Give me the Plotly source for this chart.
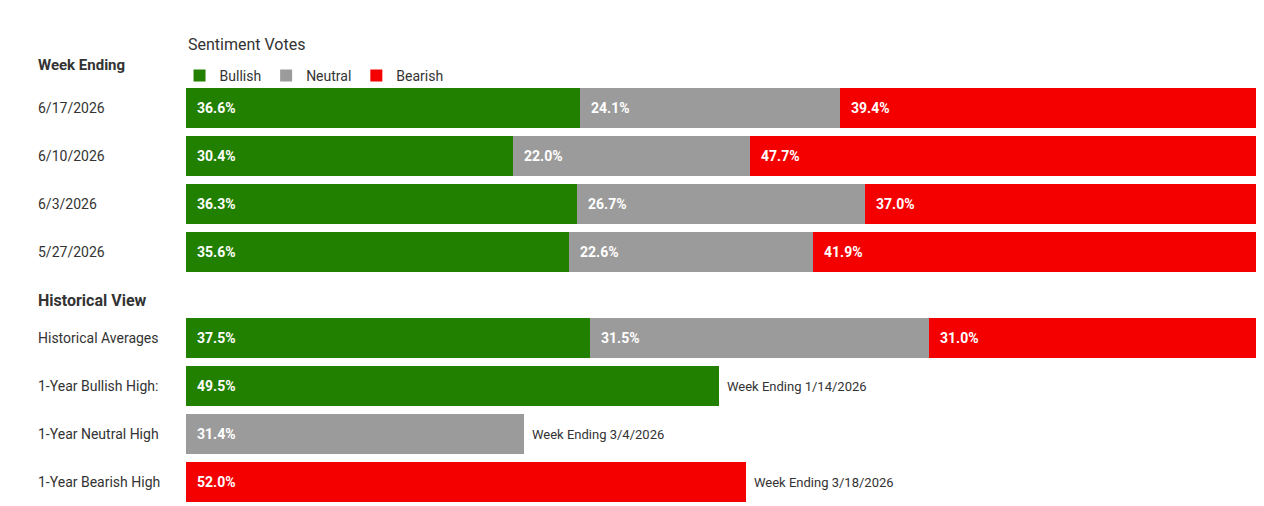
import plotly.graph_objects as go

weeks = ["6/17/2026", "6/10/2026", "6/3/2026", "5/27/2026", "Historical Averages"]
bullish = [36.6, 30.4, 36.3, 35.6, 37.5]
neutral = [24.1, 22.0, 26.7, 22.6, 31.5]
bearish = [39.4, 47.7, 37.0, 41.9, 31.0]

high_labels = ["1-Year Bullish High:", "1-Year Neutral High", "1-Year Bearish High"]
high_values = [49.5, 31.4, 52.0]
high_notes = ["Week Ending 1/14/2026", "Week Ending 3/4/2026", "Week Ending 3/18/2026"]

GREEN, GRAY, RED = "#228000", "#9b9b9b", "#f50000"
FONT = "Roboto"

# row centres in pixel units (layout only)
top_y = [100, 148, 196, 244, 330]
high_y = [378, 426, 474]

fig = go.Figure()
base_n = bullish
base_b = [a + b for a, b in zip(bullish, neutral)]
for name, vals, base, col in [("Bullish", bullish, [0] * 5, GREEN),
                              ("Neutral", neutral, base_n, GRAY),
                              ("Bearish", bearish, base_b, RED)]:
    fig.add_trace(go.Bar(name=name, y=top_y, x=vals, base=base, orientation="h",
                         marker=dict(color=col, line_width=0), width=40, hoverinfo="x+name"))
    for yy, v, b in zip(top_y, vals, base):
        fig.add_annotation(x=b, y=yy, text="<b>%.1f%%</b>" % v, showarrow=False,
                           xanchor="left", xshift=9, font=dict(color="white", size=14, family=FONT))

for yy, v, col, note in zip(high_y, high_values, [GREEN, GRAY, RED], high_notes):
    fig.add_trace(go.Bar(y=[yy], x=[v], orientation="h", showlegend=False,
                         marker=dict(color=col, line_width=0), width=40))
    fig.add_annotation(x=0, y=yy, text="<b>%.1f%%</b>" % v, showarrow=False,
                       xanchor="left", xshift=9, font=dict(color="white", size=14, family=FONT))
    fig.add_annotation(x=v, y=yy, text=note, showarrow=False, xanchor="left", xshift=6,
                       font=dict(color="#333", size=13, family=FONT))

lx = (28 - 178) / 1077
for lab, yy in zip(weeks + high_labels, top_y + high_y):
    fig.add_annotation(xref="paper", x=lx, y=yy, text=lab, showarrow=False, xanchor="left",
                       font=dict(color="#333", size=14, family=FONT))
fig.add_annotation(xref="paper", x=lx, y=57, text="<b>Week Ending</b>", showarrow=False,
                   xanchor="left", font=dict(color="#333", size=15, family=FONT))
fig.add_annotation(xref="paper", x=lx, y=292, text="<b>Historical View</b>", showarrow=False,
                   xanchor="left", font=dict(color="#333", size=16, family=FONT))
fig.add_annotation(xref="paper", x=0, y=36, text="Sentiment Votes", showarrow=False,
                   xanchor="left", font=dict(color="#333", size=16, family=FONT))

fig.update_layout(
    width=1264, height=506, barmode="overlay", bargap=0,
    margin=dict(l=178, r=9, t=0, b=0),
    paper_bgcolor="white", plot_bgcolor="white",
    font=dict(family=FONT, color="#333"),
    xaxis=dict(range=[0, 100], visible=False, fixedrange=True),
    yaxis=dict(range=[506, 0], visible=False, fixedrange=True),
    legend=dict(orientation="h", x=-0.006, y=1 - 52 / 506, yanchor="top", xanchor="left",
                font=dict(size=14, color="#333"), itemwidth=30, tracegroupgap=0,
                bgcolor="rgba(0,0,0,0)"),
)
fig.write_html("out.html")
